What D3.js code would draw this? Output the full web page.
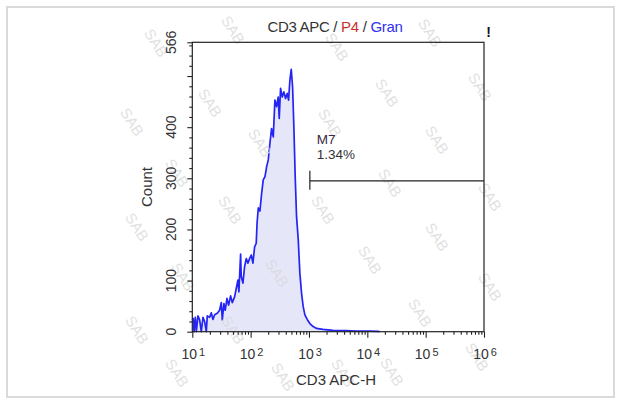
<!DOCTYPE html>
<html>
<head>
<meta charset="utf-8">
<script src="https://cdn.jsdelivr.net/npm/d3@7"></script>
<style>
  body { margin: 0; background: #fff; }
  text { font-family: "Liberation Sans", Arial, sans-serif; }
</style>
</head>
<body>
<div id="canvas"></div>
<script>
// histogram: log10 of channel, count
const logChannel = [1.0, 1.015, 1.029, 1.052, 1.069, 1.097, 1.126, 1.154, 1.183, 1.211,
  1.24, 1.257, 1.297, 1.326, 1.354, 1.383, 1.428, 1.468, 1.497, 1.514,
  1.542, 1.565, 1.594, 1.622, 1.657, 1.685, 1.725, 1.754, 1.782, 1.799,
  1.828, 1.839, 1.868, 1.896, 1.925, 1.953, 1.982, 2.011, 2.039, 2.068,
  2.096, 2.11, 2.131, 2.159, 2.188, 2.216, 2.245, 2.273, 2.302, 2.33,
  2.359, 2.388, 2.416, 2.445, 2.473, 2.49, 2.513, 2.542, 2.57, 2.599,
  2.627, 2.65, 2.673, 2.696, 2.719, 2.741, 2.764, 2.787, 2.816, 2.844,
  2.873, 2.901, 2.93, 2.97, 3.015, 3.072, 3.13, 3.24, 3.41, 3.64,
  3.81, 4.04, 4.18, 4.21];
const counts = [23, 26, 0, 28, 0, 31, 23, 0, 28, 20,
  0, 31, 28, 37, 24, 33, 36, 42, 57, 23,
  55, 42, 65, 52, 70, 57, 68, 85, 101, 78,
  152, 108, 95, 127, 143, 134, 143, 150, 134, 166,
  173, 212, 242, 236, 270, 297, 303, 322, 336, 368,
  397, 381, 453, 440, 459, 417, 476, 459, 469, 456,
  466, 453, 492, 513, 479, 401, 303, 225, 180, 114,
  75, 49, 33, 24, 16, 10, 6.5, 4.5, 2.6, 2,
  1.3, 1.3, 0.6, 0];

const yTicks = [0, 100, 200, 300, 400, 500, 566];
const yLabels = [0, 100, 200, 300, 400, 566];
const xDecades = [1, 2, 3, 4, 5, 6];

const marker = { name: "M7", pct: "1.34%", fromLog: 3.015, toLog: 6, level: 295 };

const titleParts = [
  { t: "CD3 APC / ", c: "#333" },
  { t: "P4", c: "#c8302c" },
  { t: " / ", c: "#333" },
  { t: "Gran", c: "#3030f0" }
];

const watermarks = [[156, 43], [233, 30], [210, 103], [132, 122], [260, 143], [177, 173],
  [230, 210], [137, 227], [277, 273], [183, 277], [137, 330], [233, 330], [177, 373],
  [283, 377], [430, 33], [337, 47], [387, 93], [480, 87], [330, 123], [437, 140],
  [390, 183], [490, 197], [323, 210], [437, 237], [370, 260], [490, 287], [420, 313],
  [477, 357], [343, 373], [392, 372]];

const W = 622, H = 403;
const plot = { left: 192.3, right: 484, top: 42.3, bottom: 331.7 };

const svg = d3
  .select("#canvas")
  .append("svg")
  .attr("width", W)
  .attr("height", H);

svg.append("rect")
  .attr("x", 7).attr("y", 7)
  .attr("width", 607).attr("height", 390)
  .attr("fill", "#fff")
  .attr("stroke", "#dadada")
  .attr("stroke-width", 2);

const x = d3.scaleLog().domain([10, 1e6]).range([plot.left, plot.right]);
const y = d3.scaleLinear().domain([0, 566]).range([plot.bottom, plot.top]);

const data = logChannel.map((v, i) => ({ ch: Math.pow(10, v), n: counts[i] }));

// histogram fill + line
const area = d3.area().x(d => x(d.ch)).y0(y(0)).y1(d => y(d.n));
const line = d3.line().x(d => x(d.ch)).y(d => y(d.n));

svg.append("path")
  .datum(data)
  .attr("d", area)
  .attr("fill", "#e6e6f9");

svg.append("path")
  .datum(data)
  .attr("d", line)
  .attr("fill", "none")
  .attr("stroke", "#2424f4")
  .attr("stroke-width", 1.7)
  .attr("stroke-linejoin", "round");

// watermark
svg.append("g")
  .selectAll("text")
  .data(watermarks)
  .enter()
  .append("text")
  .attr("transform", d => `translate(${d[0]},${d[1]}) rotate(58)`)
  .attr("text-anchor", "middle")
  .attr("dy", "0.35em")
  .attr("font-size", 15)
  .attr("fill", "#d9d9d9")
  .attr("fill-opacity", 0.8)
  .text("SAB");

// plot frame
svg.append("rect")
  .attr("x", plot.left).attr("y", plot.top)
  .attr("width", plot.right - plot.left)
  .attr("height", plot.bottom - plot.top)
  .attr("fill", "none")
  .attr("stroke", "#222")
  .attr("stroke-width", 1.2);

// x axis ticks
const minors = [];
xDecades.slice(0, -1).forEach(e => {
  for (let k = 2; k <= 9; k++) minors.push(k * Math.pow(10, e));
});

const xMajor = svg.append("g")
  .attr("transform", `translate(0,${plot.bottom})`)
  .call(d3.axisBottom(x).tickValues(xDecades.map(e => Math.pow(10, e))).tickSize(6).tickFormat(""));
const xMinor = svg.append("g")
  .attr("transform", `translate(0,${plot.bottom})`)
  .call(d3.axisBottom(x).tickValues(minors).tickSize(3).tickFormat(""));
[xMajor, xMinor].forEach(g => {
  g.select(".domain").remove();
  g.selectAll("line").attr("stroke", "#222").attr("stroke-width", 1.1);
});

const xl = svg.append("g")
  .selectAll("text")
  .data(xDecades)
  .enter()
  .append("text")
  .attr("x", d => x(Math.pow(10, d)) + 1)
  .attr("y", 359)
  .attr("text-anchor", "middle")
  .attr("font-size", 14)
  .attr("fill", "#333");
xl.append("tspan").text("10");
xl.append("tspan")
  .attr("dx", 2)
  .attr("dy", -3)
  .attr("font-size", 11)
  .text(d => d);

// y axis ticks
const yMinor = d3.range(20, 566, 20).filter(v => v % 100 !== 0);
const yMaj = svg.append("g")
  .attr("transform", `translate(${plot.left},0)`)
  .call(d3.axisLeft(y).tickValues(yTicks).tickSize(5).tickFormat(""));
const yMin = svg.append("g")
  .attr("transform", `translate(${plot.left},0)`)
  .call(d3.axisLeft(y).tickValues(yMinor).tickSize(3).tickFormat(""));
[yMaj, yMin].forEach(g => {
  g.select(".domain").remove();
  g.selectAll("line").attr("stroke", "#222").attr("stroke-width", 1.1);
});

svg.append("g")
  .selectAll("text")
  .data(yLabels)
  .enter()
  .append("text")
  .attr("transform", d => `translate(176,${y(d)}) rotate(-90)`)
  .attr("text-anchor", "middle")
  .attr("font-size", 14)
  .attr("fill", "#333")
  .text(d => d);

// axis titles
svg.append("text")
  .attr("transform", "translate(152,187) rotate(-90)")
  .attr("text-anchor", "middle")
  .attr("font-size", 15)
  .attr("fill", "#333")
  .text("Count");

svg.append("text")
  .attr("x", 336)
  .attr("y", 384.5)
  .attr("text-anchor", "middle")
  .attr("font-size", 15)
  .attr("fill", "#333")
  .text("CD3 APC-H");

const title = svg.append("text")
  .attr("x", 335)
  .attr("y", 31.5)
  .attr("text-anchor", "middle")
  .attr("font-size", 15)
  .attr("letter-spacing", -0.3)
  .attr("style", "white-space: pre");
title.selectAll("tspan")
  .data(titleParts)
  .enter()
  .append("tspan")
  .attr("fill", d => d.c)
  .text(d => d.t);

svg.append("text")
  .attr("x", 488.5)
  .attr("y", 37)
  .attr("text-anchor", "middle")
  .attr("font-size", 14)
  .attr("font-weight", "bold")
  .attr("fill", "#111")
  .text("!");

// marker
const mx0 = x(Math.pow(10, marker.fromLog));
const mx1 = x(Math.pow(10, marker.toLog));
const my = y(marker.level);
svg.append("line")
  .attr("x1", mx0).attr("x2", mx1)
  .attr("y1", my).attr("y2", my)
  .attr("stroke", "#222").attr("stroke-width", 1.2);
svg.append("line")
  .attr("x1", mx0).attr("x2", mx0)
  .attr("y1", my - 10).attr("y2", my + 9)
  .attr("stroke", "#222").attr("stroke-width", 1.2);

svg.append("text")
  .attr("x", mx0 + 7)
  .attr("y", my - 37)
  .attr("font-size", 13.5)
  .attr("fill", "#3a2a40")
  .text(marker.name);
svg.append("text")
  .attr("x", mx0 + 7)
  .attr("y", my - 22)
  .attr("font-size", 13.5)
  .attr("fill", "#333")
  .text(marker.pct);
</script>
</body>
</html>
